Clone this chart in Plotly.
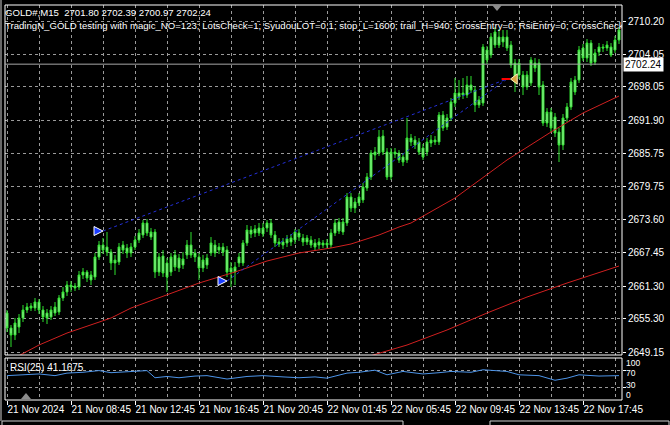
import plotly.graph_objects as go

# ---------------- data ----------------
bars = list(range(154))
open_ = [2656.35, 2653.59, 2652.30, 2653.77, 2655.43, 2656.91, 2657.64, 2657.27, 2658.38, 2656.91,
         2656.35, 2655.62, 2656.35, 2656.54, 2659.12, 2660.23, 2661.52, 2660.96, 2661.15, 2663.36,
         2663.91, 2662.44, 2662.99, 2666.68, 2668.89, 2668.52, 2667.60, 2665.57, 2665.76, 2668.89,
         2668.34, 2667.42, 2668.52, 2669.81, 2670.74, 2672.95, 2670.37, 2671.29, 2663.91, 2666.86,
         2665.57, 2663.91, 2667.05, 2664.65, 2665.20, 2667.05, 2668.89, 2667.42, 2666.68, 2664.65,
         2665.20, 2667.42, 2668.89, 2667.97, 2668.52, 2667.97, 2663.91, 2663.91, 2665.57, 2665.57,
         2669.26, 2671.66, 2671.10, 2672.03, 2670.92, 2672.03, 2672.95, 2670.74, 2669.08, 2669.45,
         2669.26, 2669.45, 2669.81, 2671.10, 2670.18, 2669.45, 2669.81, 2669.26, 2668.89, 2669.26,
         2668.89, 2668.89, 2671.10, 2673.13, 2671.29, 2672.95, 2677.74, 2675.71, 2676.64, 2677.19,
         2679.40, 2681.43, 2686.04, 2685.86, 2688.99, 2686.04, 2681.43, 2686.04, 2685.86, 2685.12,
         2684.57, 2688.62, 2688.25, 2687.89, 2686.78, 2686.04, 2687.70, 2688.25, 2687.89, 2692.86,
         2690.65, 2692.31, 2695.08, 2696.92, 2696.55, 2696.55, 2698.40, 2697.47, 2694.71, 2695.08,
         2704.85, 2703.93, 2705.77, 2707.25, 2706.33, 2707.25, 2705.77, 2702.45, 2700.24, 2700.24,
         2698.03, 2698.76, 2702.45, 2702.45, 2698.40, 2691.39, 2693.42, 2692.50, 2689.73, 2687.33,
         2692.31, 2694.34, 2699.32, 2699.32, 2705.22, 2703.37, 2706.14, 2702.64, 2704.48, 2705.40,
         2705.22, 2705.40, 2704.85, 2706.69]
high_ = [2656.91, 2654.14, 2655.43, 2656.17, 2657.83, 2658.20, 2658.20, 2659.12, 2658.93, 2657.64,
         2657.09, 2657.64, 2658.38, 2659.67, 2661.15, 2662.25, 2662.25, 2661.88, 2664.10, 2664.65,
         2664.28, 2664.10, 2667.42, 2669.63, 2670.18, 2671.29, 2668.15, 2667.05, 2669.26, 2669.63,
         2669.08, 2669.26, 2670.55, 2671.84, 2673.50, 2673.69, 2672.03, 2671.84, 2667.42, 2667.97,
         2666.49, 2667.42, 2667.97, 2667.23, 2667.60, 2669.81, 2671.29, 2668.15, 2667.42, 2667.05,
         2667.23, 2670.37, 2669.81, 2669.26, 2669.26, 2668.71, 2665.76, 2665.76, 2667.42, 2669.81,
         2672.58, 2672.40, 2672.58, 2672.95, 2672.95, 2673.50, 2673.69, 2671.47, 2670.18, 2670.18,
         2670.74, 2670.92, 2671.84, 2671.84, 2670.92, 2670.74, 2670.55, 2670.00, 2670.18, 2669.81,
         2670.00, 2671.84, 2673.69, 2673.87, 2673.87, 2678.48, 2678.48, 2677.56, 2678.48, 2680.32,
         2682.17, 2686.41, 2686.96, 2690.10, 2690.10, 2686.78, 2686.78, 2686.78, 2686.41, 2685.86,
         2692.31, 2689.36, 2688.99, 2688.62, 2687.52, 2688.62, 2689.18, 2688.99, 2693.42, 2693.60,
         2693.05, 2696.00, 2699.69, 2699.32, 2699.69, 2700.06, 2700.06, 2698.21, 2696.37, 2705.96,
         2705.59, 2707.98, 2709.09, 2708.72, 2708.54, 2708.54, 2706.51, 2703.19, 2703.19, 2700.98,
         2700.98, 2703.56, 2703.37, 2703.19, 2699.13, 2694.15, 2694.15, 2693.23, 2690.47, 2693.05,
         2695.08, 2699.69, 2700.06, 2705.59, 2705.96, 2706.88, 2706.69, 2705.03, 2706.14, 2705.96,
         2706.51, 2706.14, 2707.43, 2709.09]
low_ = [2652.85, 2650.08, 2651.37, 2652.66, 2654.69, 2656.35, 2656.72, 2656.72, 2656.17, 2654.69,
        2654.32, 2655.06, 2655.80, 2655.98, 2658.57, 2659.49, 2660.23, 2660.41, 2660.59, 2662.62,
        2662.07, 2661.52, 2662.44, 2666.13, 2667.23, 2666.86, 2664.28, 2663.36, 2665.20, 2667.23,
        2666.49, 2666.68, 2667.97, 2669.26, 2670.18, 2670.55, 2669.81, 2662.81, 2663.18, 2662.99,
        2660.23, 2663.18, 2664.10, 2663.91, 2664.47, 2666.31, 2666.49, 2665.76, 2662.44, 2663.91,
        2664.47, 2666.86, 2666.68, 2667.23, 2666.86, 2662.99, 2661.15, 2661.52, 2664.84, 2665.02,
        2668.71, 2670.18, 2670.37, 2670.55, 2670.37, 2671.29, 2670.18, 2668.52, 2668.52, 2668.15,
        2668.52, 2668.71, 2669.08, 2669.63, 2668.71, 2668.89, 2668.34, 2667.79, 2668.15, 2668.34,
        2668.34, 2668.34, 2670.55, 2670.92, 2670.74, 2672.40, 2674.98, 2674.79, 2676.08, 2676.64,
        2678.85, 2680.88, 2684.57, 2685.30, 2685.49, 2680.88, 2680.88, 2684.93, 2684.01, 2683.46,
        2684.01, 2687.15, 2686.59, 2685.49, 2684.57, 2685.30, 2686.96, 2687.33, 2687.33, 2689.91,
        2690.10, 2691.76, 2694.34, 2695.63, 2695.81, 2696.00, 2696.92, 2693.42, 2694.15, 2694.52,
        2702.27, 2703.37, 2705.22, 2705.22, 2705.40, 2704.67, 2701.53, 2697.11, 2699.50, 2696.55,
        2697.47, 2698.21, 2700.79, 2696.55, 2690.84, 2690.65, 2689.73, 2688.81, 2684.20, 2686.41,
        2691.57, 2693.79, 2696.55, 2698.76, 2702.82, 2702.64, 2701.90, 2702.08, 2703.74, 2704.48,
        2704.67, 2703.56, 2704.30, 2705.96]
close_ = [2653.59, 2652.30, 2654.51, 2655.43, 2656.91, 2657.46, 2657.27, 2658.38, 2656.91, 2655.62,
          2655.43, 2656.91, 2657.46, 2659.12, 2660.23, 2661.52, 2661.15, 2661.33, 2663.36, 2663.91,
          2662.81, 2663.36, 2666.68, 2668.89, 2667.97, 2667.60, 2665.57, 2666.13, 2668.52, 2667.97,
          2667.42, 2668.52, 2669.81, 2671.10, 2672.95, 2671.10, 2671.29, 2663.91, 2666.68, 2663.73,
          2662.99, 2666.68, 2664.84, 2666.49, 2666.31, 2668.89, 2667.05, 2666.68, 2664.65, 2666.13,
          2666.49, 2669.26, 2667.42, 2668.52, 2667.60, 2663.91, 2664.65, 2664.84, 2666.68, 2669.26,
          2671.66, 2670.92, 2671.84, 2671.10, 2672.03, 2672.95, 2670.74, 2669.26, 2669.45, 2668.89,
          2670.00, 2670.18, 2671.29, 2670.37, 2669.45, 2670.18, 2668.89, 2668.52, 2669.45, 2668.89,
          2669.26, 2671.10, 2672.95, 2671.47, 2673.13, 2677.74, 2675.71, 2676.82, 2677.74, 2679.59,
          2681.43, 2685.86, 2685.49, 2688.81, 2686.04, 2681.43, 2686.04, 2685.67, 2684.57, 2684.20,
          2688.62, 2687.89, 2687.33, 2686.04, 2685.12, 2687.89, 2688.25, 2687.89, 2692.86, 2690.47,
          2692.31, 2695.26, 2696.92, 2696.18, 2696.92, 2698.40, 2697.47, 2694.71, 2695.63, 2705.40,
          2703.01, 2707.25, 2708.17, 2705.77, 2707.25, 2705.22, 2702.08, 2698.95, 2702.45, 2698.03,
          2700.24, 2703.01, 2701.53, 2698.03, 2691.39, 2693.42, 2690.47, 2689.54, 2687.33, 2692.31,
          2694.34, 2698.95, 2697.11, 2704.85, 2703.37, 2706.14, 2702.45, 2704.30, 2705.40, 2705.22,
          2705.77, 2703.93, 2706.69, 2708.54]

# moving averages (vertices)
ma_fast_bar = [0, 5, 8, 15, 22, 26, 31, 40, 48, 57, 65, 73, 81, 86, 93, 98, 101, 112, 125, 136, 144, 153]
ma_fast_val = [2647.32, 2649.35, 2650.45, 2652.66, 2654.51, 2655.43, 2657.27, 2659.67, 2661.88, 2663.91,
               2665.94, 2667.42, 2668.34, 2669.08, 2670.74, 2672.21, 2672.95, 2677.56, 2684.57, 2689.73,
               2693.23, 2696.37]
ma_slow_bar = [86, 89, 100, 110, 120, 130, 140, 153]
ma_slow_val = [2647.40, 2648.06, 2650.45, 2653.22, 2656.35, 2659.30, 2661.88, 2665.02]

# RSI(25)
rsi_bar = [0, 4, 8, 12, 15, 19, 23, 26, 29, 32, 35, 37, 40, 43, 47, 50, 55, 60, 64, 69, 73, 77, 80,
           85, 88, 92, 95, 99, 104, 108, 111, 116, 119, 122, 125, 128, 133, 137, 140, 143, 148, 153]
rsi_val = [58, 60, 62, 58, 64, 66, 70, 65, 67, 68, 70, 53, 56, 53, 57, 58, 50, 56, 58, 55, 53, 55, 52,
           64, 66, 71, 60, 68, 62, 65, 68, 66, 72, 70, 68, 60, 58, 47, 52, 60, 57, 58]

# trades
trade_open_bar = [24, 55]
trade_open_price = [2671.47, 2662.25]
trade_close_bar = [125, 125]
trade_close_price = [2699.50, 2699.50]

last_price = 2702.24

# axes labels
price_ticks = [2710.20, 2704.05, 2698.05, 2691.90, 2685.75, 2679.75, 2673.60, 2667.45, 2661.30, 2655.30, 2649.15]
time_tick_bars = [0, 16, 32, 48, 64, 80, 96, 112, 128, 144]
time_tick_text = ["21 Nov 2024", "21 Nov 08:45", "21 Nov 12:45", "21 Nov 16:45", "21 Nov 20:45",
                  "22 Nov 01:45", "22 Nov 05:45", "22 Nov 09:45", "22 Nov 13:45", "22 Nov 17:45"]
grid_bars = [8, 24, 40, 56, 72, 88, 104, 120, 136, 152]

header1 = "GOLD#,M15  2701.80 2702.39 2700.97 2702.24"
header2 = ("TradingN_GOLD testing with magic_NO=123; LotsCheck=1; SyudouLOT=0.1; stop_L=1600; "
           "trail_H=940; CrossEntry=0; RsiEntry=0; CrossCheck=0")

# ---------------- layout geometry ----------------
W, H = 670, 425
PL, PR = 5, 622          # pane left/right pixels
MT, MB = 5, 355          # main pane top/bottom
RT, RB = 358, 400        # rsi pane top/bottom
XR = [-0.5, -0.5 + (PR - PL) / 4.0]
YR = [2648.61, 2713.15]
ph = RB - MT
dom_main = [(RB - MB) / ph, 1.0]
dom_rsi = [0.0, (RB - RT) / ph]

FONT = "Liberation Sans, Arial, sans-serif"
CL = "#2fe02f"
CF = "#a8f5a8"
GRID = "#9a9a9a"
GD = "3px,3px"


def px_x(p):
    return (p - PL) / (PR - PL)


def px_y(p):
    return (RB - p) / ph


def data_y(p):
    return YR[1] - (p - MT) * (YR[1] - YR[0]) / (MB - MT)


def data_x(p):
    return XR[0] + (p - PL) * (XR[1] - XR[0]) / (PR - PL)


fig = go.Figure()

fig.add_trace(go.Candlestick(
    x=bars, open=open_, high=high_, low=low_, close=close_, xaxis="x2", yaxis="y",
    increasing=dict(line=dict(color=CL, width=1), fillcolor=CF),
    decreasing=dict(line=dict(color=CL, width=1), fillcolor=CF),
    whiskerwidth=0, showlegend=False, hoverinfo="skip"))

fig.add_trace(go.Scatter(x=ma_fast_bar, y=ma_fast_val, mode="lines", xaxis="x2", yaxis="y",
                         line=dict(color="#d02020", width=1), showlegend=False, hoverinfo="skip"))
fig.add_trace(go.Scatter(x=ma_slow_bar, y=ma_slow_val, mode="lines", xaxis="x2", yaxis="y",
                         line=dict(color="#d02020", width=1), showlegend=False, hoverinfo="skip"))

for ob, op, cb, cp in zip(trade_open_bar, trade_open_price, trade_close_bar, trade_close_price):
    fig.add_trace(go.Scatter(x=[ob, cb], y=[op, cp], mode="lines", xaxis="x2", yaxis="y",
                             line=dict(color="#2430d8", width=1, dash="3px,3px"),
                             showlegend=False, hoverinfo="skip"))

fig.add_trace(go.Scatter(x=trade_open_bar, y=trade_open_price, mode="markers", xaxis="x2", yaxis="y",
                         marker=dict(symbol="arrow-right", size=9, color="#1a3cff",
                                     line=dict(color="white", width=1)),
                         showlegend=False, hoverinfo="skip"))
fig.add_trace(go.Scatter(x=[b - 0.3 for b in trade_close_bar[:1]], y=trade_close_price[:1], mode="markers",
                         xaxis="x2", yaxis="y",
                         marker=dict(symbol="line-ew", size=6, color="red", line=dict(color="red", width=2)),
                         showlegend=False, hoverinfo="skip"))
fig.add_trace(go.Scatter(x=[b + 2 for b in trade_close_bar[:1]], y=trade_close_price[:1], mode="markers",
                         xaxis="x2", yaxis="y",
                         marker=dict(symbol="triangle-left", size=9, color="#d9a441",
                                     line=dict(color="#fff2c0", width=1)),
                         showlegend=False, hoverinfo="skip"))

# header text (clipped to pane like MT4)
fig.add_trace(go.Scatter(x=[data_x(5), data_x(5)], y=[data_y(14), data_y(27)], mode="text",
                         text=[header1, header2], textposition="middle right",
                         textfont=dict(family=FONT, size=9.6, color="white"),
                         xaxis="x2", yaxis="y", cliponaxis=True, showlegend=False, hoverinfo="skip"))

fig.add_trace(go.Scatter(x=rsi_bar, y=rsi_val, mode="lines", xaxis="x", yaxis="y2",
                         line=dict(color="#4d94e8", width=1), showlegend=False, hoverinfo="skip"))

axis_common = dict(range=XR, showline=False, zeroline=False, tickmode="array", automargin=False,
                   tickvals=time_tick_bars, showgrid=True, gridcolor=GRID, griddash=GD, gridwidth=1,
                   minor=dict(tickmode="array", tickvals=grid_bars, showgrid=True, gridcolor=GRID,
                              griddash=GD, gridwidth=1, ticks=""))

fig.update_layout(
    width=W, height=H, autosize=False,
    paper_bgcolor="black", plot_bgcolor="black",
    margin=dict(l=PL, r=W - PR, t=MT, b=H - RB, pad=0),
    font=dict(family=FONT, size=10, color="white"),
    showlegend=False,
    xaxis=dict(axis_common, domain=[0, 1], anchor="y2", ticktext=time_tick_text, tickangle=0,
               ticks="outside", ticklen=4, tickcolor="white", tickwidth=1,
               ticklabelposition="outside right", tickfont=dict(family=FONT, size=10, color="white")),
    xaxis2=dict(axis_common, domain=[0, 1], anchor="y", matches="x", showticklabels=False, ticks="",
                rangeslider=dict(visible=False)),
    yaxis=dict(domain=dom_main, anchor="x2", range=YR, side="right", tickmode="array", automargin=False,
               tickvals=price_ticks, ticktext=["%.2f" % v for v in price_ticks],
               showgrid=True, gridcolor=GRID, griddash=GD, gridwidth=1, zeroline=False,
               ticks="outside", ticklen=3, tickcolor="white",
               tickfont=dict(family=FONT, size=10, color="white")),
    yaxis2=dict(domain=dom_rsi, anchor="x", range=[0, 100], side="right", tickmode="array", automargin=False,
                tickvals=[30, 70], showticklabels=False, showgrid=True, gridcolor=GRID, griddash=GD,
                zeroline=False, ticks="outside", ticklen=3, tickcolor="white"),
)

shapes = []
# pane borders
shapes.append(dict(type="rect", xref="paper", yref="paper", x0=0, x1=1, y0=dom_main[0], y1=1,
                   line=dict(color="white", width=1)))
shapes.append(dict(type="rect", xref="paper", yref="paper", x0=0, x1=1, y0=0, y1=dom_rsi[1],
                   line=dict(color="white", width=1)))
# current price line
shapes.append(dict(type="line", xref="paper", yref="y", x0=0, x1=1, y0=last_price, y1=last_price,
                   line=dict(color="#a8a8a8", width=1)))
# scroll markers
shapes.append(dict(type="path", xref="paper", yref="paper",
                   path="M %f %f L %f %f L %f %f Z" % (px_x(492), px_y(5), px_x(502), px_y(5), px_x(497), px_y(11)),
                   fillcolor="#8c8c8c", line=dict(width=0)))
shapes.append(dict(type="path", xref="paper", yref="paper",
                   path="M %f %f L %f %f L %f %f Z" % (px_x(21), px_y(399), px_x(31), px_y(399), px_x(26), px_y(393)),
                   fillcolor="#8c8c8c", line=dict(width=0)))
# window frame bits
shapes.append(dict(type="line", xref="paper", yref="paper", x0=px_x(1), x1=px_x(1), y0=px_y(0), y1=px_y(421),
                   line=dict(color="#d0d0d0", width=1)))
shapes.append(dict(type="rect", xref="paper", yref="paper", x0=px_x(2), x1=px_x(403), y0=px_y(421), y1=px_y(428),
                   line=dict(color="#d0d0d0", width=1)))
shapes.append(dict(type="rect", xref="paper", yref="paper", x0=px_x(490), x1=px_x(669), y0=px_y(421), y1=px_y(428),
                   line=dict(color="#d0d0d0", width=1)))
fig.update_layout(shapes=shapes)

ann = []
ann.append(dict(xref="paper", yref="y", x=1, y=last_price, xanchor="left", yanchor="middle", xshift=1,
                text="%.2f" % last_price, showarrow=False, bgcolor="white", borderpad=1,
                font=dict(family=FONT, size=10, color="black")))
ann.append(dict(xref="paper", yref="paper", x=px_x(8), y=px_y(367), xanchor="left", yanchor="middle",
                text="RSI(25) 41.1675", showarrow=False, font=dict(family=FONT, size=10, color="white")))
for lab, yv, ya, ys in [("100", 100, "top", 1), ("70", 70, "middle", -2),
                        ("30", 30, "middle", 2), ("0", 0, "bottom", -1)]:
    ann.append(dict(xref="paper", yref="y2", x=1, y=yv, xanchor="left", yanchor=ya, xshift=3, yshift=ys,
                    text=lab, showarrow=False, borderpad=0,
                    font=dict(family=FONT, size=8.5, color="white")))
fig.update_layout(annotations=ann)

fig.write_html("out.html", config={"displayModeBar": False},
               post_script="document.body.style.margin='0';document.body.style.background='black';")
